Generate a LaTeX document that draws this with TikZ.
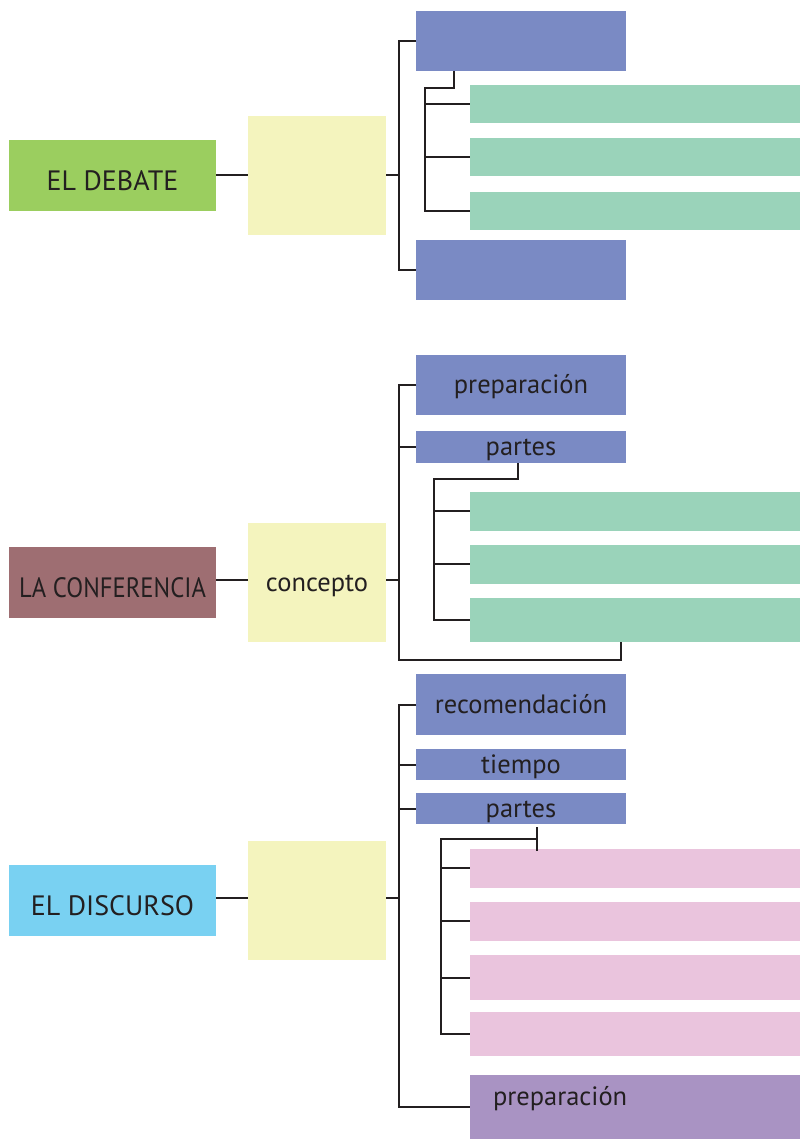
\documentclass[tikz,border=0pt]{standalone}
\usepackage{fontspec}
\setmainfont{PT Sans}
\usetikzlibrary{calc}
\definecolor{txtcol}{HTML}{231F20}
\definecolor{linecol}{HTML}{231F20}
\definecolor{debcol}{HTML}{9BCE5F}
\definecolor{confcol}{HTML}{9E6E72}
\definecolor{disccol}{HTML}{79D1F2}
\definecolor{ideacol}{HTML}{F4F4BE}
\definecolor{topiccol}{HTML}{7A8AC4}
\definecolor{mintcol}{HTML}{9AD3BA}
\definecolor{pinkcol}{HTML}{EAC4DD}
\definecolor{lilaccol}{HTML}{A993C3}

\begin{document}
\begin{tikzpicture}[x=1pt,y=-1pt,
      box/.style={anchor=north west,inner sep=0pt,outer sep=0pt,text=txtcol,
        font=\fontsize{26.5}{26.5}\selectfont,text height=24pt,text depth=7pt},
      title/.style={box,minimum width=207pt,minimum height=71pt,
        font=\fontsize{28}{28}\selectfont,text height=30pt,text depth=0pt},
      idea/.style={box,fill=ideacol,minimum width=138pt,minimum height=119pt},
      topic/.style={box,fill=topiccol,minimum width=210pt},
      sub/.style={box,fill=mintcol,minimum width=330pt,minimum height=38.5pt},
      link/.style={draw=linecol,line width=2pt}]
      \useasboundingbox (0,0) rectangle (800,1139);

      \node[title,fill=debcol] (deb) at (9,140) {EL DEBATE};
      \node[idea] (ideaA) at (248,116) {};
      \node[topic,minimum height=60pt] (pA1) at (416,11) {};
      \node[sub] (gA1) at (470,85) {};
      \node[sub] (gA2) at (470,138) {};
      \node[sub] (gA3) at (470,192) {};
      \node[topic,minimum height=60pt] (pA2) at (416,240) {};
      \coordinate (sA) at (399,175.5);
      \coordinate (kA) at (425,88);
      \draw[link] (deb) -- (ideaA);
      \draw[link] (ideaA.east) -- (sA);
      \draw[link] (pA1.west) -| (sA) |- (pA2.west);
      \draw[link] ([xshift=38pt]pA1.south west) |- (kA) |- (gA3.west);
      \draw[link] (kA |- gA1.west) -- (gA1.west);
      \draw[link] (kA |- gA2.west) -- (gA2.west);

      \node[title,fill=confcol] (conf) at (9,547) {\scalebox{0.88}[1]{LA CONFERENCIA}};
      \node[idea] (ideaB) at (248,523) {concepto};
      \node[topic,minimum height=60pt] (pB1) at (416,355) {preparación};
      \node[topic,minimum height=32pt] (pB2) at (416,431) {partes};
      \node[sub] (gB1) at (470,492) {};
      \node[sub] (gB2) at (470,545) {};
      \node[sub,minimum height=44pt] (gB3) at (470,598) {};
      \coordinate (sB) at (399,580);
      \coordinate (kB) at (434,479);
      \coordinate (eB) at (621,660);
      \draw[link] (conf.east |- sB) -- (ideaB.west |- sB);
      \draw[link] (ideaB.east |- sB) -- (sB);
      \draw[link] (pB1.west) -| (sB) |- (eB) -- (eB |- gB3.south);
      \draw[link] (sB |- pB2.west) -- (pB2.west);
      \draw[link] ([xshift=102pt]pB2.south west) |- (kB) |- (gB3.west);
      \draw[link] (kB |- gB1.west) -- (gB1.west);
      \draw[link] (kB |- gB2.west) -- (gB2.west);

      \node[title,fill=disccol] (disc) at (9,865) {EL DISCURSO};
      \node[idea] (ideaC) at (248,841) {};
      \node[topic,minimum height=61pt] (pC1) at (416,674) {recomendación};
      \node[topic,minimum height=31pt] (pC2) at (416,749) {tiempo};
      \node[topic,minimum height=31pt] (pC3) at (416,793) {partes};
      \node[sub,fill=pinkcol] (hC1) at (470,849) {};
      \node[sub,fill=pinkcol] (hC2) at (470,902) {};
      \node[sub,fill=pinkcol,minimum height=45pt] (hC3) at (470,955) {};
      \node[sub,fill=pinkcol,minimum height=44pt] (hC4) at (470,1012) {};
      \node[sub,fill=lilaccol,minimum height=64pt] (pC4) at (470,1075) {};
      \node[box,anchor=west] (prepC) at ([xshift=23pt,yshift=10pt]pC4.west) {preparación};
      \coordinate (sC) at (399,898);
      \coordinate (tC) at (537,827);
      \coordinate (kC) at (441,839);
      \draw[link] (disc.east |- sC) -- (ideaC.west |- sC);
      \draw[link] (ideaC.east |- sC) -- (sC);
      \draw[link] (pC1.west) -| (sC) |- (pC4.west);
      \draw[link] (sC |- pC2.west) -- (pC2.west);
      \draw[link] (sC |- pC3.west) -- (pC3.west);
      \draw[link] (tC) -- ++(0,24);
      \draw[link] (tC |- kC) -- (kC) |- (hC4.west);
      \draw[link] (kC |- hC1.west) -- (hC1.west);
      \draw[link] (kC |- hC2.west) -- (hC2.west);
      \draw[link] (kC |- hC3.west) -- (hC3.west);
\end{tikzpicture}
\end{document}
